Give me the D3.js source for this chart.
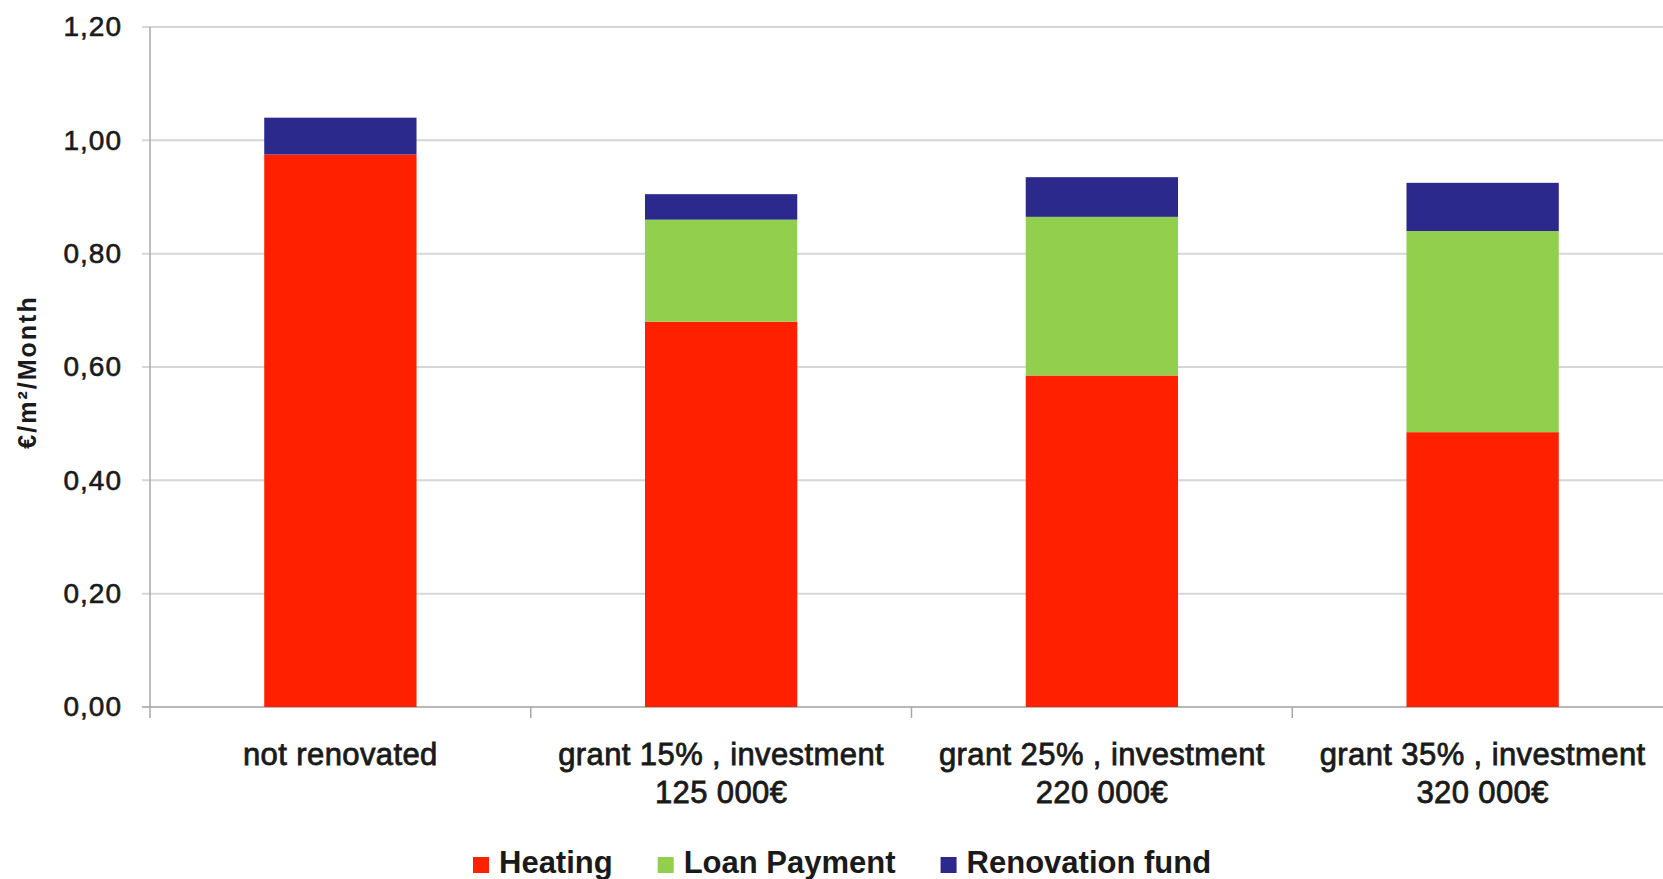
<!DOCTYPE html>
<html>
<head>
<meta charset="utf-8">
<script src="https://cdn.jsdelivr.net/npm/d3@7"></script>
<style>
  html, body { margin: 0; padding: 0; background: #fff; overflow: hidden; }
  svg { display: block; font-family: "Liberation Sans", Arial, sans-serif; }
</style>
</head>
<body>
<div id="chart"></div>
<script>
// data
const categories = ["not renovated", "grant 15%", "grant 25%", "grant 35%"]
const catLine1 = ["not renovated", "grant 15% , investment", "grant 25% , investment", "grant 35% , investment"]
const catLine2 = ["", "125 000€", "220 000€", "320 000€"]
const heating = [0.975, 0.68, 0.585, 0.485]
const loanPayment = [0, 0.18, 0.28, 0.355]
const renovationFund = [0.065, 0.045, 0.07, 0.085]
const seriesNames = ["Heating", "Loan Payment", "Renovation fund"]
const seriesColors = ["#ff2000", "#92cf4c", "#2b2a8c"]
const yTicks = [0, 0.2, 0.4, 0.6, 0.8, 1.0, 1.2]
const yTitle = "€/m²/Month"

const width = 1663
const height = 879
const margin = { left: 150, top: 27, bottom: 172 }
const plotRight = 1673 // plot runs past the right edge in the original

const rows = categories.map((c, i) => ({
  cat: c,
  "Heating": heating[i],
  "Loan Payment": loanPayment[i],
  "Renovation fund": renovationFund[i]
}))

const stacked = d3.stack().keys(seriesNames)(rows)

const x = d3.scaleBand()
  .domain(categories)
  .range([margin.left, plotRight])
  .paddingInner(0.6)
  .paddingOuter(0.3)

const y = d3.scaleLinear()
  .domain([0, 1.2])
  .range([height - margin.bottom, margin.top])

const color = d3.scaleOrdinal().domain(seriesNames).range(seriesColors)
const fmt = d3.formatLocale({ decimal: ",", thousands: " ", grouping: [3], currency: ["", "€"] }).format(".2f")

const svg = d3.select("#chart").append("svg")
  .attr("width", width)
  .attr("height", height)

// gridlines
svg.append("g")
  .selectAll("line")
  .data(yTicks)
  .join("line")
    .attr("x1", margin.left - 8)
    .attr("x2", plotRight)
    .attr("y1", d => y(d))
    .attr("y2", d => y(d))
    .attr("stroke", d => d === 0 ? "#b8b8b8" : "#d6d6d6")
    .attr("stroke-width", 2)

// y axis
const yAxis = svg.append("g")
  .attr("transform", `translate(${margin.left},0)`)
  .call(d3.axisLeft(y).tickValues(yTicks).tickFormat(fmt).tickSize(0).tickPadding(28))
yAxis.select(".domain").remove()
yAxis.selectAll("text")
  .attr("font-size", 28)
  .attr("letter-spacing", 1)
  .attr("fill", "#1a1a1a")
  .attr("stroke", "#1a1a1a")
  .attr("stroke-width", 0.6)
  .attr("font-family", "Liberation Sans, Arial, sans-serif")
svg.append("line")
  .attr("x1", margin.left).attr("x2", margin.left)
  .attr("y1", y(1.2)).attr("y2", y(0) + 11)
  .attr("stroke", "#a8a8a8").attr("stroke-width", 1.5)

// x ticks at category boundaries
const step = x.step()
svg.append("g")
  .selectAll("line")
  .data(categories.slice(1))
  .join("line")
    .attr("x1", d => x(d) - step * 0.3)
    .attr("x2", d => x(d) - step * 0.3)
    .attr("y1", y(0))
    .attr("y2", y(0) + 11)
    .attr("stroke", "#a8a8a8")
    .attr("stroke-width", 1.5)

// bars
svg.append("g")
  .selectAll("g")
  .data(stacked)
  .join("g")
    .attr("fill", d => color(d.key))
  .selectAll("rect")
  .data(d => d)
  .join("rect")
    .attr("x", d => x(d.data.cat))
    .attr("width", x.bandwidth())
    .attr("y", d => y(d[1]))
    .attr("height", d => y(d[0]) - y(d[1]))

// category labels
const catG = svg.append("g")
  .attr("font-size", 31)
  .attr("letter-spacing", 0.4)
  .attr("fill", "#1a1a1a")
  .attr("stroke", "#1a1a1a")
  .attr("stroke-width", 0.8)
  .attr("text-anchor", "middle")
categories.forEach((c, i) => {
  const cx = x(c) + x.bandwidth() / 2
  catG.append("text").attr("x", cx).attr("y", 765).text(catLine1[i])
  if (catLine2[i]) catG.append("text").attr("x", cx).attr("y", 803).text(catLine2[i])
})

// y title
svg.append("text")
  .attr("transform", `translate(36,${372}) rotate(-90)`)
  .attr("text-anchor", "middle")
  .attr("font-size", 25)
  .attr("font-weight", "bold")
  .attr("letter-spacing", 2)
  .attr("fill", "#1a1a1a")
  .text(yTitle)

// legend
const legend = svg.append("g")
let lx = 473
seriesNames.forEach(name => {
  legend.append("rect")
    .attr("x", lx).attr("y", 857)
    .attr("width", 16).attr("height", 16)
    .attr("fill", color(name))
  const t = legend.append("text")
    .attr("x", lx + 26).attr("y", 873)
    .attr("font-size", 31)
    .attr("font-weight", "bold")
    .attr("fill", "#1a1a1a")
    .text(name)
  lx += 26 + t.node().getComputedTextLength() + 45
})
</script>
</body>
</html>
